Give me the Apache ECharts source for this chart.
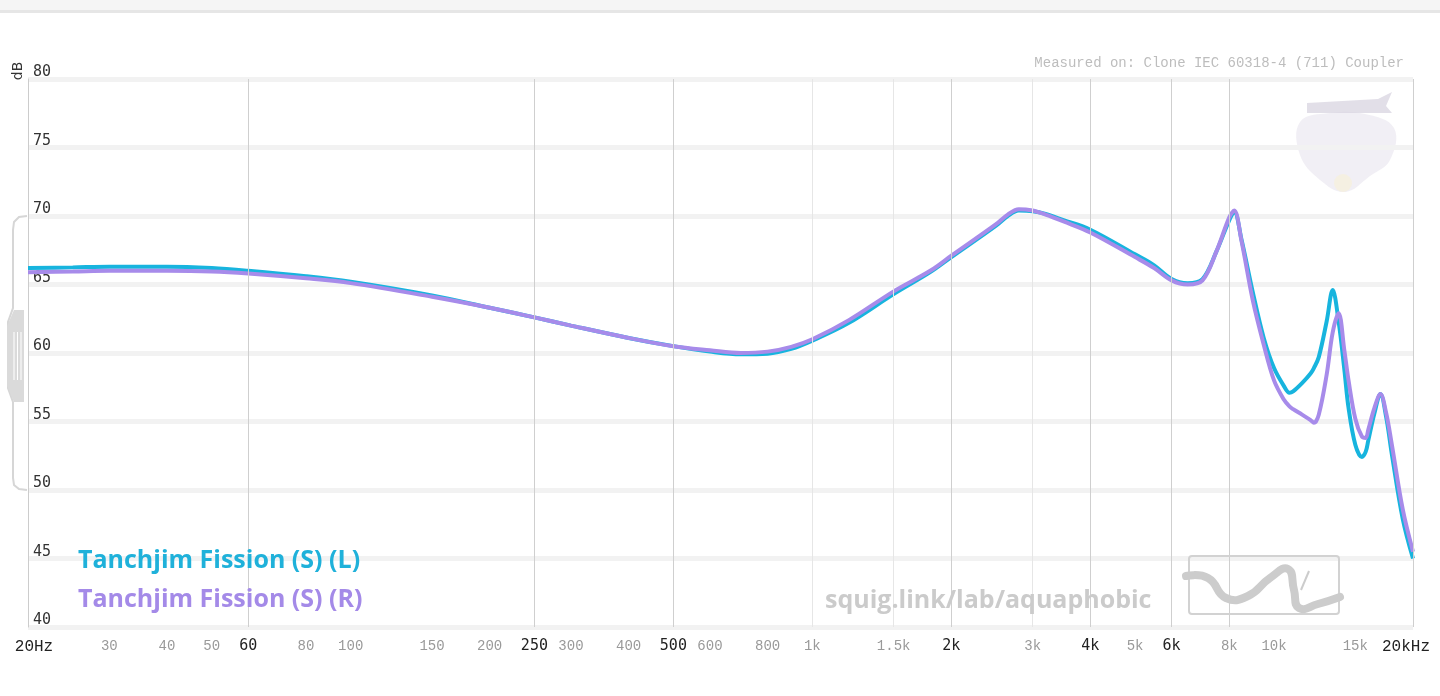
<!DOCTYPE html>
<html><head><meta charset="utf-8">
<script src="https://cdn.jsdelivr.net/npm/echarts@6/dist/echarts.min.js"></script>
<style>html,body{margin:0;padding:0;background:#fff;overflow:hidden}#c{width:1440px;height:696px}</style>
</head><body><div id="c"></div><script>
// ---- data ----
const freqs = [20,25,30,40,50,60,80,100,150,200,250,300,400,500,600,700,800,900,1000,1200,1500,1800,2000,2500,2650,2800,3000,3200,3500,4000,5000,5500,6000,6500,7000,7500,8000,8200,8500,9000,9500,10000,10500,10800,11000,11500,12000,12200,12500,13000,13400,13800,14200,14500,15000,15500,15800,16000,16500,17000,17500,18000,19000,20000];
const splL = [66.2,66.25,66.3,66.3,66.2,66.0,65.6,65.2,64.2,63.3,62.6,62.0,61.1,60.5,60.1,59.9,59.95,60.3,60.9,62.2,64.3,65.9,67.0,69.3,70.0,70.4,70.35,70.15,69.7,69.0,67.2,66.4,65.4,65.1,65.4,67.4,69.7,70.3,68.3,64.4,61.1,58.9,57.6,57.1,57.2,57.8,58.5,58.9,59.7,62.3,64.6,62.3,58.8,56.0,53.3,52.4,52.8,53.6,55.6,57.0,55.3,52.6,47.9,45.0];
const splR = [65.9,65.95,66.0,66.0,65.95,65.8,65.45,65.1,64.1,63.3,62.6,62.0,61.1,60.5,60.2,60.0,60.1,60.45,61.0,62.4,64.5,66.0,67.1,69.4,70.1,70.5,70.4,70.1,69.6,68.8,67.0,66.2,65.3,65.0,65.3,67.4,69.9,70.4,68.2,63.8,60.6,58.0,56.6,56.1,55.9,55.5,55.1,54.9,55.5,58.4,61.5,62.9,60.2,58.0,55.2,53.9,53.8,54.4,56.0,57.0,55.6,53.3,48.6,45.5];
const seriesNames = ['Tanchjim Fission (S) (L)', 'Tanchjim Fission (S) (R)'];
const xTickValues = [20,30,40,50,60,80,100,150,200,250,300,400,500,600,800,1000,1500,2000,3000,4000,5000,6000,8000,10000,15000,20000];
const xTickLabels = ['20Hz','30','40','50','60','80','100','150','200','250','300','400','500','600','800','1k','1.5k','2k','3k','4k','5k','6k','8k','10k','15k','20kHz'];
const xMajorLabels = ['20Hz','60','250','500','2k','4k','6k','20kHz'];
const xGridDark = [60,250,500,2000,4000,6000,8000,20000];
const xGridLight = [1000,1500,3000];
const yMin = 40, yMax = 80, yStep = 5;

const colL = '#17b4de', colR = '#a78bea';

const chart = echarts.init(document.getElementById('c'), null, {renderer:'canvas'});

const markData = xTickValues.map((v, i) => {
  const lab = xTickLabels[i];
  const major = xMajorLabels.indexOf(lab) >= 0;
  const edge = (lab === '20Hz' || lab === '20kHz');
  let lineColor;
  if (xGridDark.indexOf(v) >= 0) lineColor = '#cfcfcf';
  else if (xGridLight.indexOf(v) >= 0) lineColor = '#e6e6e6';
  else lineColor = 'rgba(255,255,255,0)';
  return {
    xAxis: v,
    lineStyle: {color: lineColor, width: 1, type: 'solid'},
    label: {
      show: true,
      position: 'start',
      distance: 12,
      formatter: lab,
      offset: lab === '20Hz' ? [6,0] : (lab === '20kHz' ? [-7,0] : [0,0]),
      color: major ? '#222' : '#999',
      fontFamily: edge ? 'Liberation Mono' : (major ? 'DejaVu Sans Mono' : 'Liberation Mono'),
      fontSize: edge ? 16 : (major ? 15 : 14),
      fontWeight: 'normal'
    }
  };
});

const option = {
  animation: false,
  backgroundColor: '#fff',
  grid: {left: 28, right: 27, top: 79, bottom: 69, containLabel: false},
  xAxis: {
    type: 'log', logBase: 10, min: 20, max: 20000,
    axisLine: {show: false}, axisTick: {show: false}, axisLabel: {show: false}, splitLine: {show: false}
  },
  yAxis: {
    type: 'value', min: yMin, max: yMax, interval: yStep,
    axisLine: {show: true, lineStyle: {color: '#cccccc', width: 1}},
    axisTick: {show: false},
    axisLabel: {inside: true, margin: 5, verticalAlign: 'bottom', lineHeight: 13, color: '#333', fontFamily: 'DejaVu Sans Mono', fontSize: 15},
    splitLine: {show: true, lineStyle: {color: '#f2f2f2', width: 5}}
  },
  series: [
    {
      type: 'line', name: 'grid', data: [[20, -100]], z: 1, silent: true, showSymbol: false, symbol: 'none',
      lineStyle: {opacity: 0},
      markLine: {silent: true, symbol: 'none', animation: false, data: markData}
    },
    {
      type: 'line', name: seriesNames[0], z: 3,
      data: freqs.map((f, i) => [f, splL[i]]),
      smooth: 0.35, showSymbol: false, symbol: 'none',
      lineStyle: {color: colL, width: 4}
    },
    {
      type: 'line', name: seriesNames[1], z: 4,
      data: freqs.map((f, i) => [f, splR[i]]),
      smooth: 0.35, showSymbol: false, symbol: 'none',
      lineStyle: {color: colR, width: 4}
    }
  ],
  graphic: [
    {type: 'rect', shape: {x: 0, y: 0, width: 1440, height: 10}, style: {fill: '#f5f5f5'}, silent: true},
    {type: 'rect', shape: {x: 0, y: 10, width: 1440, height: 3}, style: {fill: '#e6e6e6'}, silent: true},
    // scroll bracket on left
    {type: 'polyline', silent: true, shape: {points: [[27,216],[19,217],[14,222],[13,230],[13,308],[8,322],[8,388],[13,402],[13,478],[14,485],[19,489],[27,490]]},
      style: {fill: null, stroke: '#d6d6d6', lineWidth: 2}},
    {type: 'polygon', silent: true, shape: {points: [[14,310],[7,326],[7,386],[14,402],[24,402],[24,310]]},
      style: {fill: '#dadada'}},
    {type: 'rect', silent: true, shape: {x: 13.5, y: 332, width: 1, height: 48}, style: {fill: '#fff'}},
    {type: 'rect', silent: true, shape: {x: 17, y: 332, width: 1, height: 48}, style: {fill: '#fff'}},
    {type: 'rect', silent: true, shape: {x: 20.5, y: 332, width: 1, height: 48}, style: {fill: '#fff'}},
    // dB label
    {type: 'text', silent: true, x: 18, y: 71, rotation: Math.PI / 2,
      style: {text: 'dB', fill: '#333', font: '14px "DejaVu Sans"', align: 'center', verticalAlign: 'middle'}},
    // measured on
    {type: 'text', silent: true, x: 1404, y: 63,
      style: {text: 'Measured on: Clone IEC 60318-4 (711) Coupler', fill: '#bdbdbd', font: '14px "Liberation Mono"', align: 'right', verticalAlign: 'middle'}},
    // faint logo top-right
    {type: 'polygon', silent: true, z: 0, shape: {smooth: 0.4, points: [[1300,122],[1330,113],[1365,114],[1394,128],[1390,160],[1370,176],[1345,192],[1320,180],[1300,155]]},
      style: {fill: '#ece9f2', opacity: 0.75}},
    {type: 'polygon', silent: true, z: 0, shape: {points: [[1307,103],[1378,99],[1392,92],[1386,106],[1392,113],[1307,113]]},
      style: {fill: '#d8d4e0', opacity: 0.75}},
    {type: 'circle', silent: true, z: 0, shape: {cx: 1343, cy: 183, r: 9}, style: {fill: '#f5f0e0', opacity: 0.9}},
    // legend texts
    {type: 'text', silent: true, z: 100, x: 78, y: 561, style: {text: seriesNames[0], fill: '#1fb1da', font: 'bold 25px "Open Sans"', align: 'left', verticalAlign: 'middle'}},
    {type: 'text', silent: true, z: 100, x: 78, y: 600, style: {text: seriesNames[1], fill: '#a48ae8', font: 'bold 25px "Open Sans"', align: 'left', verticalAlign: 'middle'}},
    // watermark
    {type: 'text', silent: true, z: 100, x: 825, y: 601, style: {text: 'squig.link/lab/aquaphobic', fill: '#cbcbcb', font: 'bold 25px "Open Sans"', align: 'left', verticalAlign: 'middle'}},
    // bottom-right logo box
    {type: 'rect', silent: true, z: 100, shape: {x: 1189, y: 556, width: 150, height: 58, r: 3}, style: {fill: null, stroke: '#d2d2d2', lineWidth: 2}},
    {type: 'polyline', silent: true, z: 100, shape: {smooth: 0.5, points: [[1186,576],[1208,578],[1226,598],[1248,596],[1270,578],[1288,569],[1294,590],[1299,608],[1318,604],[1340,597]]},
      style: {fill: null, stroke: '#cccccc', lineWidth: 8, lineCap: 'round'}},
    {type: 'line', silent: true, z: 100, shape: {x1: 1309, y1: 571, x2: 1301, y2: 590}, style: {stroke: '#cccccc', lineWidth: 2}}
  ]
};
chart.setOption(option);
</script></body></html>
